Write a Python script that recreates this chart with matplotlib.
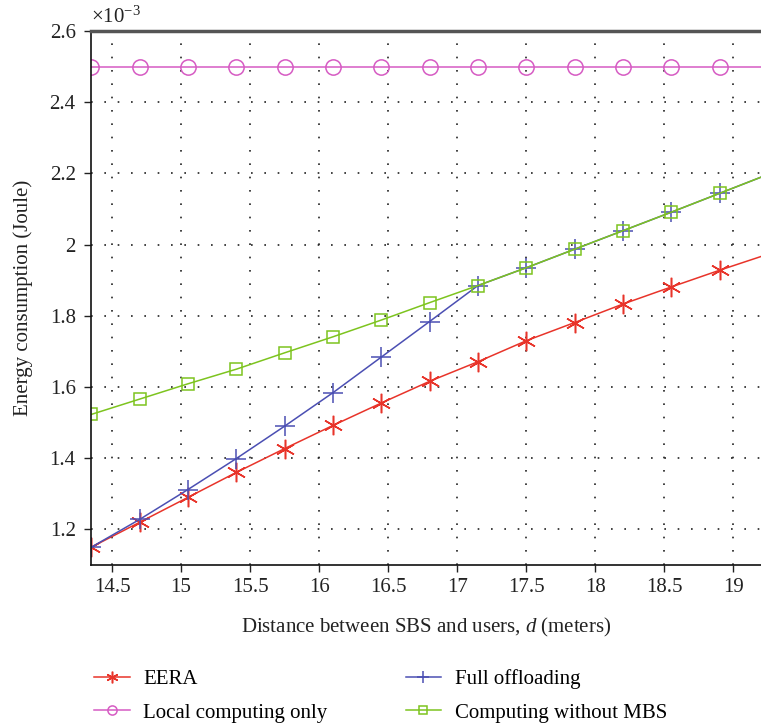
import matplotlib as ml
ml.use("Agg")
import matplotlib.pyplot as plt
import numpy as np

################################################################################
# data (x 10^-3 Joule)
################################################################################
distance = [14.35, 14.7, 15.05, 15.4, 15.75, 16.1, 16.45, 16.8, 17.15,
            17.5, 17.85, 18.2, 18.55, 18.9, 19.25]
eera = [1.150, 1.220, 1.290, 1.360, 1.427, 1.492, 1.555, 1.616, 1.671,
        1.730, 1.781, 1.833, 1.881, 1.928, 1.973]
full_offloading = [1.150, 1.228, 1.312, 1.399, 1.490, 1.584, 1.684, 1.784, 1.885,
                   1.935, 1.987, 2.039, 2.091, 2.144, 2.197]
local_only = [2.5] * 15
without_mbs = [1.523, 1.566, 1.609, 1.650, 1.696, 1.741, 1.788, 1.837, 1.885,
               1.935, 1.987, 2.039, 2.091, 2.144, 2.197]

xticks = [14.5, 15, 15.5, 16, 16.5, 17, 17.5, 18, 18.5, 19]
yticks = [1.2, 1.4, 1.6, 1.8, 2.0, 2.2, 2.4, 2.6]
ytick_labels = ['1.2', '1.4', '1.6', '1.8', '2', '2.2', '2.4', '2.6']

plt.rcParams['font.family'] = ['Liberation Serif', 'DejaVu Serif']
plt.rcParams['mathtext.fontset'] = 'custom'
plt.rcParams['mathtext.it'] = 'Liberation Serif:italic'
plt.rcParams['mathtext.rm'] = 'Liberation Serif'

################################################################################
# plot
################################################################################
fig = plt.figure(figsize=(7.61, 7.28), dpi=100)
ax = fig.add_axes([0.1196, 0.2239, 0.8804, 0.7335])

mk = slice(0, 14)
l1, = ax.plot(distance, eera, color='#e8342a', lw=1.1, marker=(6, 2, 0),
              markersize=14, markeredgewidth=1.1, markevery=mk, label='EERA')
l3, = ax.plot(distance, full_offloading, color='#4b4fb3', lw=1.1, marker='+',
              markersize=14, markeredgewidth=1.1, markevery=mk, label='Full offloading')
l2, = ax.plot(distance, local_only, color='#d65bc3', lw=1.1, marker='o',
              markersize=11, markerfacecolor='none', markeredgewidth=1.1,
              markevery=mk, label='Local computing only')
l4, = ax.plot(distance, without_mbs, color='#7dc41f', lw=1.1, marker='s',
              markersize=9, markerfacecolor='none', markeredgewidth=1.1,
              markevery=mk, label='Computing without MBS')

ax.set_xlim(14.348, 19.2)
ax.set_ylim(1.1, 2.6)
ax.set_xticks(xticks)
ax.set_xticklabels([('%g' % v) for v in xticks])
ax.set_yticks(yticks)
ax.set_yticklabels(ytick_labels)
ax.tick_params(labelsize=15, direction='out', length=5, width=1, colors='#222222')
ax.tick_params(axis='y', pad=6)
ax.tick_params(axis='x', pad=4)

ax.grid(True, color='#222222', linestyle=(0, (1, 7)), linewidth=1.2)
for s in ['left', 'bottom']:
    ax.spines[s].set_color('#111111')
    ax.spines[s].set_linewidth(1.2)
ax.spines['top'].set_color('#555555')
ax.spines['top'].set_linewidth(2.5)
ax.spines['right'].set_visible(False)

ax.text(0.0, 1.006, r'$\times$10$^{-3}$', transform=ax.transAxes, fontsize=15,
        ha='left', va='bottom', color='#222222')

ax.set_xlabel('Distance between SBS and users, $d$ (meters)', fontsize=15,
              labelpad=14, color='#222222')
ax.set_ylabel('Energy consumption (Joule)', fontsize=15, labelpad=12, color='#222222')

fig.legend([l1, l2, l3, l4],
           ['EERA', 'Local computing only', 'Full offloading', 'Computing without MBS'],
           ncol=2, frameon=False, fontsize=15, markerscale=0.6,
           loc='upper left', bbox_to_anchor=(0.113, 0.092), handlelength=1.7,
           handletextpad=0.65, columnspacing=3.75, labelspacing=0.66, borderaxespad=0)

fig.savefig('out.png', dpi=100)
